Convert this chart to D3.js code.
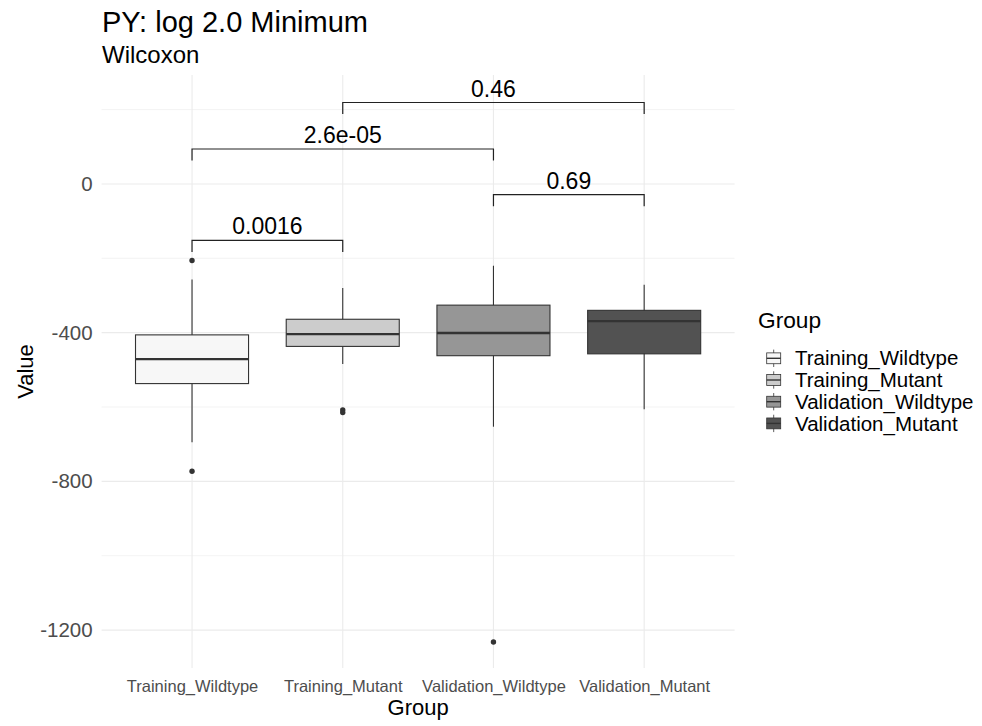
<!DOCTYPE html>
<html>
<head>
<meta charset="utf-8">
<script src="https://cdn.jsdelivr.net/npm/d3@7"></script>
<style>
  body { margin: 0; background: #fff; }
  svg { font-family: 'Liberation Sans', Arial, sans-serif; }
</style>
</head>
<body>
<svg width="982" height="726"></svg>
<script>
// ///////////////////////////////////////////////////////////// boxplot.js //

const groups = ['Training_Wildtype', 'Training_Mutant',
  'Validation_Wildtype', 'Validation_Mutant'];
const fills = ['#F7F7F7', '#CCCCCC', '#969696', '#525252'];

// box statistics
const whiskerLow = [-695, -484, -653, -606];
const q1 = [-537, -437, -462, -457];
const medians = [-471, -404, -401, -369];
const q3 = [-406, -364, -326, -340];
const whiskerHigh = [-257, -280, -220, -271];
const outliers = [[-206, -773], [-608, -615], [-1232], []];

// wilcoxon comparisons
const bracketFrom = ['Training_Wildtype', 'Validation_Wildtype',
  'Training_Wildtype', 'Training_Mutant'];
const bracketTo = ['Training_Mutant', 'Validation_Mutant',
  'Validation_Wildtype', 'Validation_Mutant'];
const bracketY = [-152, -29, 94, 219];
const bracketLabels = ['0.0016', '0.69', '2.6e-05', '0.46'];
const bracketTick = 31;

const yTicks = [-1200, -800, -400, 0];
const yMinor = [-1000, -600, -200, 200];

// 0. setup groups
// ----------------------------------
const svg = d3.select('svg');
const panel = {left: 101.6, right: 734.6, top: 75, bottom: 668};

const x = d3.scalePoint()
    .domain(groups)
    .range([panel.left, panel.right])
    .padding(0.6);

const y = d3.scaleLinear()
    .domain([-1302, 293])
    .range([panel.bottom, panel.top]);

const fill = d3.scaleOrdinal().domain(groups).range(fills);

const boxWidth = x.step() * 0.75;

// 1. grid
// ----------------------------------
const grid = svg.append('g').classed('grid', true);

grid.selectAll('.minor')
    .data(yMinor)
    .enter()
    .append('line')
    .attr('x1', panel.left)
    .attr('x2', panel.right)
    .attr('y1', (d) => y(d))
    .attr('y2', (d) => y(d))
    .style('stroke', '#EBEBEB')
    .style('stroke-width', 0.6);

grid.selectAll('.major-y')
    .data(yTicks)
    .enter()
    .append('line')
    .attr('x1', panel.left)
    .attr('x2', panel.right)
    .attr('y1', (d) => y(d))
    .attr('y2', (d) => y(d))
    .style('stroke', '#EBEBEB')
    .style('stroke-width', 1.1);

grid.selectAll('.major-x')
    .data(groups)
    .enter()
    .append('line')
    .attr('x1', (d) => x(d))
    .attr('x2', (d) => x(d))
    .attr('y1', panel.top)
    .attr('y2', panel.bottom)
    .style('stroke', '#EBEBEB')
    .style('stroke-width', 1.1);

// 2. axes
// ----------------------------------
const yAxis = svg.append('g')
    .attr('transform', `translate(${panel.left},0)`)
    .call(d3.axisLeft(y)
        .tickValues(yTicks)
        .tickFormat((d) => String(d))
        .tickSize(0)
        .tickPadding(9));

const xAxis = svg.append('g')
    .attr('transform', `translate(0,${panel.bottom})`)
    .call(d3.axisBottom(x).tickSize(0).tickPadding(12));

[yAxis, xAxis].forEach((axis) => axis.select('.domain').remove());

yAxis.selectAll('text')
    .style('font-size', '20.5px')
    .style('fill', '#4D4D4D');

xAxis.selectAll('text')
    .style('font-size', '16.5px')
    .style('fill', '#4D4D4D');

svg.append('text')
    .attr('x', (panel.left + panel.right) / 2)
    .attr('y', 715)
    .attr('text-anchor', 'middle')
    .style('font-size', '22px')
    .text('Group');

svg.append('text')
    .attr('transform', `translate(32.5,${(panel.top + panel.bottom) / 2}) rotate(-90)`)
    .attr('text-anchor', 'middle')
    .style('font-size', '22px')
    .text('Value');

// 3. boxes
// ----------------------------------
const boxes = svg.append('g').classed('boxes', true)
    .selectAll('g')
    .data(groups)
    .enter()
    .append('g');

boxes.append('line')
    .attr('x1', (d) => x(d))
    .attr('x2', (d) => x(d))
    .attr('y1', (d, i) => y(whiskerLow[i]))
    .attr('y2', (d, i) => y(whiskerHigh[i]))
    .style('stroke', '#333')
    .style('stroke-width', 1.1);

boxes.append('rect')
    .attr('x', (d) => x(d) - boxWidth / 2)
    .attr('width', boxWidth)
    .attr('y', (d, i) => y(q3[i]))
    .attr('height', (d, i) => y(q1[i]) - y(q3[i]))
    .style('fill', (d) => fill(d))
    .style('stroke', '#333')
    .style('stroke-width', 1.1);

boxes.append('line')
    .attr('x1', (d) => x(d) - boxWidth / 2)
    .attr('x2', (d) => x(d) + boxWidth / 2)
    .attr('y1', (d, i) => y(medians[i]))
    .attr('y2', (d, i) => y(medians[i]))
    .style('stroke', '#333')
    .style('stroke-width', 2.3);

boxes.selectAll('circle')
    .data((d, i) => outliers[i].map((v) => ({g: d, v: v})))
    .enter()
    .append('circle')
    .attr('cx', (d) => x(d.g))
    .attr('cy', (d) => y(d.v))
    .attr('r', 2.7)
    .style('fill', '#333');

// 4. comparison brackets
// ----------------------------------
const brackets = svg.append('g').classed('brackets', true)
    .selectAll('g')
    .data(bracketLabels)
    .enter()
    .append('g');

brackets.append('path')
    .attr('d', (d, i) => {
      const x1 = x(bracketFrom[i]);
      const x2 = x(bracketTo[i]);
      const yTop = y(bracketY[i]);
      const yEnd = y(bracketY[i] - bracketTick);
      return `M${x1},${yEnd}V${yTop}H${x2}V${yEnd}`;
    })
    .style('fill', 'none')
    .style('stroke', '#222')
    .style('stroke-width', 1.2);

brackets.append('text')
    .attr('x', (d, i) => (x(bracketFrom[i]) + x(bracketTo[i])) / 2)
    .attr('y', (d, i) => y(bracketY[i]) - 6)
    .attr('text-anchor', 'middle')
    .style('font-size', '23px')
    .text((d) => d);

// 5. titles
// ----------------------------------
svg.append('text')
    .attr('x', 102)
    .attr('y', 31.7)
    .style('font-size', '29px')
    .text('PY: log 2.0 Minimum');

svg.append('text')
    .attr('x', 102)
    .attr('y', 62.7)
    .style('font-size', '24px')
    .text('Wilcoxon');

// 6. legend
// ----------------------------------
const legend = svg.append('g').attr('transform', 'translate(758,0)');

legend.append('text')
    .attr('y', 328)
    .style('font-size', '22.7px')
    .text('Group');

const keyH = 21.7;
const keys = legend.selectAll('.key')
    .data(groups)
    .enter()
    .append('g')
    .attr('transform', (d, i) => `translate(15.7,${358.3 + i * keyH})`);

keys.append('line')
    .attr('y1', -keyH * 0.4)
    .attr('y2', keyH * 0.4)
    .style('stroke', '#333')
    .style('stroke-width', 0.8);

keys.append('rect')
    .attr('x', -7)
    .attr('y', -keyH * 0.25)
    .attr('width', 14)
    .attr('height', keyH * 0.5)
    .style('fill', (d) => fill(d))
    .style('stroke', '#333')
    .style('stroke-width', 0.8);

keys.append('line')
    .attr('x1', -7)
    .attr('x2', 7)
    .style('stroke', '#333')
    .style('stroke-width', 1.4);

keys.append('text')
    .attr('x', 21.3)
    .attr('dy', '0.35em')
    .style('font-size', '20.5px')
    .text((d) => d);
</script>
</body>
</html>
